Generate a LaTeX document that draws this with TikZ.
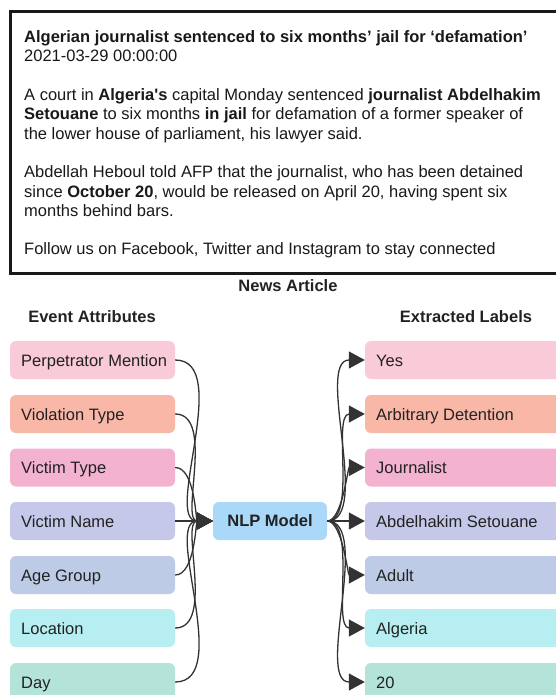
\documentclass[tikz,border=0pt]{standalone}
\usepackage{fontspec}
\setmainfont{Liberation Sans}
\usetikzlibrary{arrows.meta}
\definecolor{cPerp}{HTML}{F9CAD8}
\definecolor{cViol}{HTML}{F9B7A8}
\definecolor{cVtyp}{HTML}{F3B2D0}
\definecolor{cVnam}{HTML}{C5C8E8}
\definecolor{cAge}{HTML}{BDCBE6}
\definecolor{cLoc}{HTML}{B6EEF1}
\definecolor{cDay}{HTML}{B4E3D9}
\definecolor{cNlp}{HTML}{A9D8F8}
\definecolor{txt}{HTML}{222222}
\definecolor{edgec}{HTML}{333333}
\begin{document}
\begin{tikzpicture}[x=1pt,y=-1pt,
  box/.style={rounded corners=6pt, minimum width=165pt, minimum height=38pt, inner sep=0pt},
  rbox/.style={rounded corners=6pt, minimum width=200pt, minimum height=38pt, inner sep=0pt},
  lbl/.style={anchor=base west, inner sep=0pt, text=txt, font=\fontsize{16.5}{19}\selectfont},
  hdr/.style={inner sep=0pt, text=txt, font=\fontsize{16.5}{19}\selectfont\bfseries},
  edge/.style={draw=edgec, line width=1.3pt, -{Triangle[length=16pt,width=17pt]}}]
\useasboundingbox (0,0) rectangle (556,695);
\fill[white] (0,0) rectangle (556,695);
% article box
\draw[line width=3pt, draw=black!90] (10.5,11.5) rectangle (575,273);
\node[anchor=north west, inner sep=0pt, align=left, text=black!90,
      font=\fontsize{16.5}{19.3}\selectfont] (art) at (24,30.5) {%
\textbf{Algerian journalist sentenced to six months’ jail for ‘defamation’}\\
2021-03-29 00:00:00\\[19.3pt]
A court in \textbf{Algeria\textquotesingle s} capital Monday sentenced \textbf{journalist Abdelhakim}\\
\textbf{Setouane} to six months \textbf{in jail} for defamation of a former speaker of\\
the lower house of parliament, his lawyer said.\\[19.3pt]
Abdellah Heboul told AFP that the journalist, who has been detained\\
since \textbf{October 20}, would be released on April 20, having spent six\\
months behind bars.\\[19.3pt]
Follow us on Facebook, Twitter and Instagram to stay connected};
% headers
\node[hdr] (hnews) at (288,286) {News Article};
\node[hdr] (hev) at (92,317) {Event Attributes};
\node[hdr] (hex) at (466,317) {Extracted Labels};
% left boxes
\node[box, fill=cPerp] (a1) at (92.5,360) {};
\node[box, fill=cViol] (a2) at (92.5,414) {};
\node[box, fill=cVtyp] (a3) at (92.5,467.5) {};
\node[box, fill=cVnam] (a4) at (92.5,521) {};
\node[box, fill=cAge]  (a5) at (92.5,575) {};
\node[box, fill=cLoc]  (a6) at (92.5,628) {};
\node[box, fill=cDay]  (a7) at (92.5,682) {};
\node[lbl] (la1) at (21,366) {Perpetrator Mention};
\node[lbl] (la2) at (21,420) {Violation Type};
\node[lbl] (la3) at (21,473.5) {Victim Type};
\node[lbl] (la4) at (21,527) {Victim Name};
\node[lbl] (la5) at (21,581) {Age Group};
\node[lbl] (la6) at (21,634) {Location};
\node[lbl] (la7) at (21,688) {Day};
% NLP
\node[rounded corners=6pt, minimum width=114pt, minimum height=38pt, inner sep=0pt,
      fill=cNlp, text=txt, font=\fontsize{16.5}{19}\selectfont\bfseries] (nlp) at (270,521) {NLP Model};
% right boxes
\node[rbox, fill=cPerp] (b1) at (465,360) {};
\node[rbox, fill=cViol] (b2) at (465,414) {};
\node[rbox, fill=cVtyp] (b3) at (465,467.5) {};
\node[rbox, fill=cVnam] (b4) at (465,521) {};
\node[rbox, fill=cAge]  (b5) at (465,575) {};
\node[rbox, fill=cLoc]  (b6) at (465,628) {};
\node[rbox, fill=cDay]  (b7) at (465,682) {};
\node[lbl] (lb1) at (376,366) {Yes};
\node[lbl] (lb2) at (376,420) {Arbitrary Detention};
\node[lbl] (lb3) at (376,473.5) {Journalist};
\node[lbl] (lb4) at (376,527) {Abdelhakim Setouane};
\node[lbl] (lb5) at (376,581) {Adult};
\node[lbl] (lb6) at (376,634) {Algeria};
\node[lbl] (lb7) at (376,688) {20};
% left edges
\draw[edge] (a1.east) .. controls +(58,0) and +(-50,0) .. (nlp.west);
\draw[edge] (a2.east) .. controls +(40,0) and +(-33,0) .. (nlp.west);
\draw[edge] (a3.east) .. controls +(20,0) and +(-17,0) .. (nlp.west);
\draw[edge] (a4.east) -- (nlp.west);
\draw[edge] (a5.east) .. controls +(20,0) and +(-17,0) .. (nlp.west);
\draw[edge] (a6.east) .. controls +(40,0) and +(-33,0) .. (nlp.west);
\draw[edge] (a7.east) .. controls +(58,0) and +(-50,0) .. (nlp.west);
% right edges
\draw[edge] (nlp.east) .. controls +(45,0) and +(-50,0) .. (b1.west);
\draw[edge] (nlp.east) .. controls +(30,0) and +(-33,0) .. (b2.west);
\draw[edge] (nlp.east) .. controls +(15,0) and +(-17,0) .. (b3.west);
\draw[edge] (nlp.east) -- (b4.west);
\draw[edge] (nlp.east) .. controls +(15,0) and +(-17,0) .. (b5.west);
\draw[edge] (nlp.east) .. controls +(30,0) and +(-33,0) .. (b6.west);
\draw[edge] (nlp.east) .. controls +(45,0) and +(-50,0) .. (b7.west);
\end{tikzpicture}
\end{document}
